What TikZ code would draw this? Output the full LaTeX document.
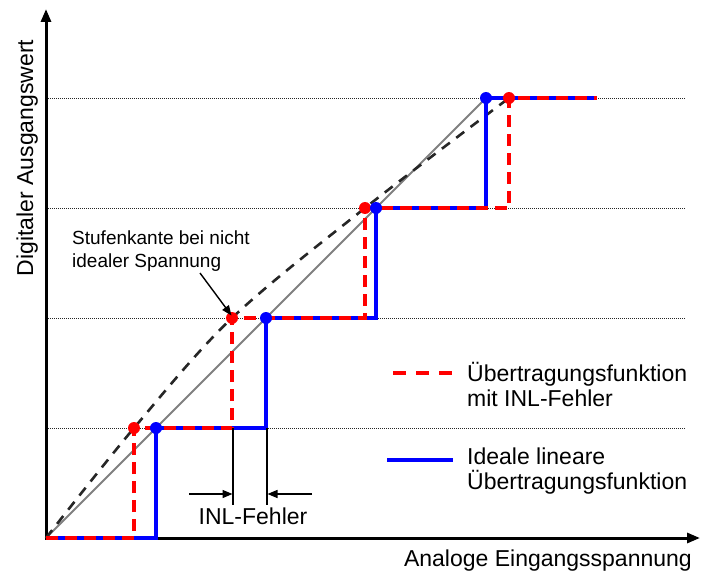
\documentclass[tikz,border=0pt]{standalone}
\usepackage{fontspec}
\setmainfont{Liberation Sans}
\usetikzlibrary{arrows.meta}
\begin{document}
\begin{tikzpicture}[x=1pt,y=-1pt,
  axis/.style={line width=3pt,-{Triangle[length=13pt,width=10pt]}},
  gridline/.style={line width=0.9pt, dash pattern=on 1pt off 1pt, black!85},
  ideal/.style={line width=3.2pt, blue, line join=miter},
  inl/.style={line width=3.2pt, red, dash pattern=on 12pt off 7pt, line join=miter},
  linear/.style={line width=2pt, black!50},
  curve/.style={line width=2.6pt, black!85, dash pattern=on 10pt off 8pt},
  reddot/.style={fill=red},
  bluedot/.style={fill=blue},
  anno/.style={line width=1.4pt, -{Triangle[length=10pt,width=8pt]}},
  marker/.style={line width=1.6pt},
  big/.style={font=\fontsize{23}{25}\selectfont, inner sep=0pt},
  small/.style={font=\fontsize{19}{23}\selectfont, inner sep=0pt}]
\useasboundingbox (0,0) rectangle (702,575);
% coordinates
\coordinate (O) at (46,538);
\coordinate (B1) at (156,428);
\coordinate (B2) at (266,318);
\coordinate (B3) at (376,208);
\coordinate (B4) at (486,98);
\coordinate (R1) at (134,428);
\coordinate (R2) at (232,318);
\coordinate (R3) at (365,208);
\coordinate (R4) at (509,98);
\coordinate (E) at (597,98);
% grid lines
\foreach \yy in {428,318,208,98} {
  \draw[gridline] (46,\yy) -- (686,\yy);
}
% axes
\draw[axis] (44.5,538) -- (700,538);
\draw[axis] (46,539.5) -- (46,9);
% linear ideal
\draw[linear] (O) -- (B4);
% non-ideal curve
\draw[curve] plot[smooth, tension=0.55] coordinates {(46,538) (134,428) (232,318) (365,208) (509,98)};
% ideal steps
\draw[ideal] (O) -- (156,538) -- (B1) -- (266,428) -- (B2) -- (376,318) -- (B3) -- (486,208) -- (B4) -- (E);
% INL steps
\draw[inl] (O) -- (134,538) -- (R1) -- (232,428) -- (R2) -- (365,318) -- (R3) -- (509,208) -- (R4) -- (E);
% dots
\foreach \p in {R1,R2,R3,R4} { \fill[reddot] (\p) circle[radius=6pt]; }
\foreach \p in {B1,B2,B3,B4} { \fill[bluedot] (\p) circle[radius=6pt]; }
% INL error markers
\coordinate (M1t) at (233,428);
\coordinate (M1b) at (233,505);
\coordinate (M2t) at (267,428);
\coordinate (M2b) at (267,505);
\draw[marker] (M1t) -- (M1b);
\draw[marker] (M2t) -- (M2b);
\coordinate (A1s) at (189,494);
\coordinate (A1e) at (232.5,494);
\coordinate (A2s) at (312,494);
\coordinate (A2e) at (267.5,494);
\draw[anno] (A1s) -- (A1e);
\draw[anno] (A2s) -- (A2e);
\node[big, anchor=base] (inllabel) at (253,524) {INL-Fehler};
% annotation Stufenkante
\node[small, align=left, anchor=west] (stufe) at (72,251) {Stufenkante bei nicht\\idealer Spannung};
\coordinate (S1) at (200,273);
\coordinate (S2) at (231.5,315.5);
\draw[anno] (S1) -- (S2);
% legend
\coordinate (L1a) at (393,373);
\coordinate (L1b) at (453,373);
\coordinate (L2a) at (387,460);
\coordinate (L2b) at (453,460);
\draw[inl, dash pattern=on 13pt off 10pt] (L1a) -- (L1b);
\draw[ideal] (L2a) -- (L2b);
\node[big, align=left, anchor=west] (leg1) at (467,384) {Übertragungsfunktion\\mit INL-Fehler};
\node[big, align=left, anchor=west] (leg2) at (467,471) {Ideale lineare\\Übertragungsfunktion};
% axis labels
\node[big, anchor=base east] (xlabel) at (692,566) {Analoge Eingangsspannung};
\node[big, anchor=base, rotate=90] (ylabel) at (33,158) {Digitaler Ausgangswert};
\end{tikzpicture}
\end{document}
